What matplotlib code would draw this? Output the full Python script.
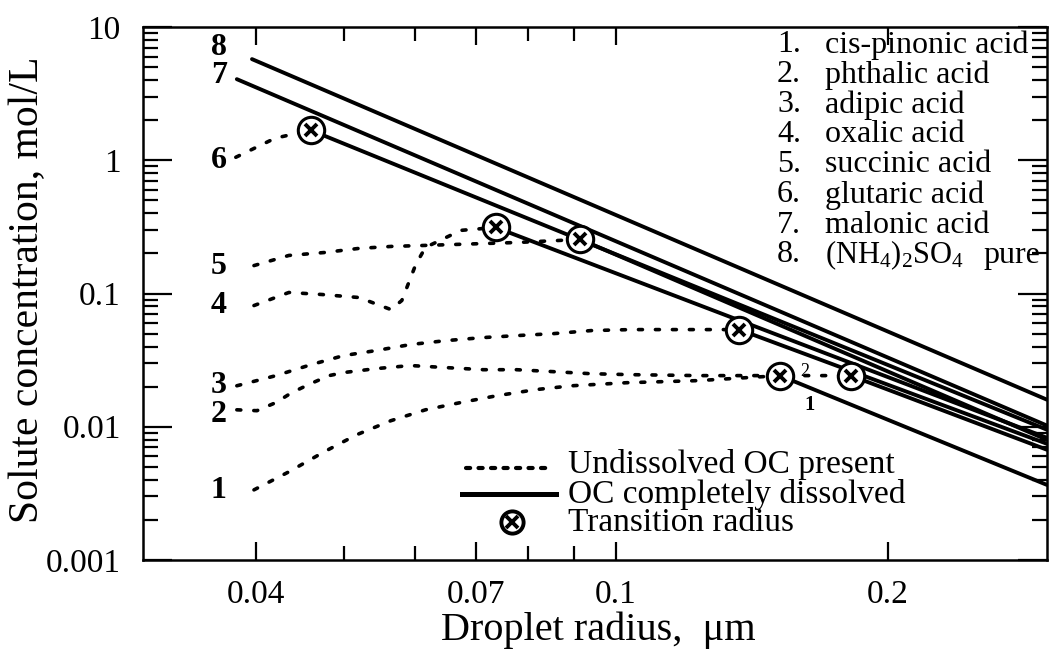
import matplotlib
matplotlib.use("Agg")
import matplotlib.pyplot as plt
from matplotlib.ticker import FixedLocator, NullFormatter, LogLocator

plt.rcParams['font.family'] = ['Liberation Serif', 'DejaVu Serif']
plt.rcParams['mathtext.fontset'] = 'custom'
plt.rcParams['mathtext.rm'] = 'Liberation Serif'
plt.rcParams['mathtext.it'] = 'Liberation Serif:italic'

# ---------------- data (droplet radius um, solute concentration mol/L) -------------
# dashed: undissolved organic compound present
r1_d = [0.0398, 0.0435, 0.0476, 0.0517, 0.0564, 0.0616, 0.0674, 0.0739, 0.0816, 0.0894, 0.1028, 0.1235, 0.152]
c1_d = [0.00336, 0.00459, 0.00649, 0.00871, 0.0111, 0.0134, 0.0152, 0.0171, 0.0190, 0.0203, 0.0214, 0.0222, 0.0242]
r2_d = [0.0381, 0.0401, 0.0421, 0.0438, 0.0460, 0.0482, 0.0500, 0.0543, 0.0593, 0.0649, 0.0714, 0.0777, 0.0854, 0.0940, 0.1039, 0.1235, 0.152, 0.182]
c2_d = [0.0134, 0.0132, 0.0152, 0.0180, 0.0211, 0.0242, 0.0255, 0.0273, 0.0288, 0.0278, 0.0268, 0.0268, 0.0259, 0.0250, 0.0246, 0.0242, 0.0242, 0.0242]
r3_d = [0.0381, 0.0421, 0.0460, 0.0500, 0.0543, 0.0593, 0.0649, 0.0714, 0.0777, 0.0854, 0.0940, 0.1039, 0.137]
c3_d = [0.0203, 0.0242, 0.0292, 0.0342, 0.0373, 0.0414, 0.0443, 0.0467, 0.0483, 0.0500, 0.0527, 0.0536, 0.0536]
r4_d = [0.0398, 0.0435, 0.0473, 0.0520, 0.0564, 0.0580, 0.0601, 0.0616, 0.0674, 0.0737]
c4_d = [0.0812, 0.1018, 0.0983, 0.0933, 0.0758, 0.0886, 0.1652, 0.2217, 0.2977, 0.313]
r5_d = [0.0398, 0.0435, 0.0476, 0.0520, 0.0565, 0.0616, 0.0781, 0.0914]
c5_d = [0.162, 0.193, 0.203, 0.218, 0.2256, 0.2296, 0.2417, 0.2547]
r6_d = [0.0380, 0.0420, 0.0460]
c6_d = [1.053, 1.464, 1.68]

# solid: organic compound completely dissolved
r1_s = [0.152, 0.30];  c1_s = [0.0242, 0.00366]
r2_s = [0.182, 0.30];  c2_s = [0.0242, 0.00672]
r3_s = [0.137, 0.30];  c3_s = [0.0536, 0.00745]
r4_s = [0.0737, 0.30]; c4_s = [0.313, 0.00826]
r5_s = [0.0914, 0.30]; c5_s = [0.2547, 0.00798]
r6_s = [0.046, 0.30];  c6_s = [1.68, 0.0095]
r7_s = [0.0381, 0.30]; c7_s = [4.06, 0.0102]
r8_s = [0.0396, 0.30]; c8_s = [5.74, 0.01596]

# transition radii
r_tr = [0.046, 0.0737, 0.0914, 0.137, 0.152, 0.182]
c_tr = [1.68, 0.313, 0.2547, 0.0536, 0.0242, 0.0242]

curve_ids = ['1', '2', '3', '4', '5', '6', '7', '8']
curve_names = ['cis-pinonic acid', 'phthalic acid', 'adipic acid', 'oxalic acid',
               'succinic acid', 'glutaric acid', 'malonic acid',
               r'(NH$_{4}$)$_{2}$SO$_{4}$']
curve_note8 = 'pure'
label_r = 0.0364
label_c = [0.0033, 0.0124, 0.0203, 0.0812, 0.160, 1.0, 4.3, 7.0]

x_major = [0.04, 0.07, 0.1, 0.2]
x_major_lbl = ['0.04', '0.07', '0.1', '0.2']
x_minor = [0.05, 0.06, 0.08, 0.09]
y_major = [0.001, 0.01, 0.1, 1, 10]
y_major_lbl = ['0.001', '0.01', '0.1', '1', '10']

# ---------------- figure ----------------
W, H = 1054, 654
fig = plt.figure(figsize=(W / 100, H / 100), dpi=100)
ax_l, ax_r, ax_t, ax_b = 143, 1047, 27, 560
ax = fig.add_axes([ax_l / W, 1 - ax_b / H, (ax_r - ax_l) / W, (ax_b - ax_t) / H])
ax.set_xscale('log')
ax.set_yscale('log')
ax.set_xlim(0.03, 0.3)
ax.set_ylim(0.001, 10)

lw_s = 2.8
lw_d = 2.6
dash = (1.1, 3.6)

for r, c in [(r1_d, c1_d), (r2_d, c2_d), (r3_d, c3_d), (r4_d, c4_d), (r5_d, c5_d), (r6_d, c6_d)]:
    ax.plot(r, c, color='black', lw=lw_d, ls=(0, dash), dash_capstyle='round')

for r, c in [(r1_s, c1_s), (r2_s, c2_s), (r3_s, c3_s), (r4_s, c4_s), (r5_s, c5_s),
             (r6_s, c6_s), (r7_s, c7_s), (r8_s, c8_s)]:
    ax.plot(r, c, color='black', lw=lw_s, solid_capstyle='round')

ax.plot(r_tr, c_tr, ls='none', marker='o', ms=19, mfc='white', mec='black', mew=2.2, zorder=5)
ax.plot(r_tr, c_tr, ls='none', marker='x', ms=9, mec='black', mew=2.8, zorder=6)

for cid, cy in zip(curve_ids, label_c):
    ax.text(label_r, cy, cid, fontsize=23, fontweight='bold', ha='center', va='center')

ax.text(0.162, 0.0262, '2', fontsize=13, ha='center', va='center')
ax.text(0.164, 0.0146, '1', fontsize=15, fontweight='bold', ha='center', va='center')

# ---------------- axes styling ----------------
for s in ax.spines.values():
    s.set_linewidth(1.8)
ax.xaxis.set_major_locator(FixedLocator(x_major))
ax.xaxis.set_major_formatter(plt.FixedFormatter(x_major_lbl))
ax.xaxis.set_minor_locator(FixedLocator(x_minor))
ax.xaxis.set_minor_formatter(NullFormatter())
ax.yaxis.set_major_locator(FixedLocator(y_major))
ax.yaxis.set_major_formatter(plt.FixedFormatter(y_major_lbl))
ax.yaxis.set_minor_locator(LogLocator(base=10, subs=range(2, 10), numticks=20))
ax.yaxis.set_minor_formatter(NullFormatter())

ax.tick_params(axis='both', which='both', direction='in', top=True, right=True, width=1.6)
ax.tick_params(axis='y', which='major', length=21, pad=16, labelsize=24)
ax.tick_params(axis='y', which='minor', length=11)
ax.tick_params(axis='x', which='major', length=13, pad=14, labelsize=24)
ax.tick_params(axis='x', which='minor', length=10)

ax.set_xlabel('Droplet radius,  \u03bcm', fontsize=29, va='center')
ax.xaxis.set_label_coords((598 - ax_l) / (ax_r - ax_l), (ax_b - 630) / (ax_b - ax_t))
ax.set_ylabel('Solute concentration, mol/L', fontsize=30, va='center')
ax.yaxis.set_label_coords((28 - ax_l) / (ax_r - ax_l), (ax_b - 290) / (ax_b - ax_t))

# ---------------- legend: compound list (top right) ----------------
for i, (cid, name) in enumerate(zip(curve_ids, curve_names)):
    y = 45 + 30 * i
    fig.text(777 / W, 1 - y / H, cid + '.', fontsize=23, ha='left', va='center')
    fig.text(825 / W, 1 - y / H, name, fontsize=23 if i < 7 else 22, ha='left', va='center')
fig.text(983 / W, 1 - (45 + 30 * 7) / H, curve_note8, fontsize=23, ha='left', va='center')

# ---------------- legend: line styles (bottom) ----------------
def px2data(px, py):
    disp = fig.transFigure.transform((px / W, 1 - py / H))
    return ax.transData.inverted().transform(disp)

(xa, ya), (xb, _) = px2data(466, 468), px2data(546, 468)
ax.plot([xa, xb], [ya, ya], color='black', lw=lw_d + 0.4, ls=(0, (1.0, 2.0)), dash_capstyle='round')
(xa, ya), (xb, _) = px2data(462, 494), px2data(556, 494)
ax.plot([xa, xb], [ya, ya], color='black', lw=lw_s + 0.8)
xm, ym = px2data(512, 522)
ax.plot([xm], [ym], marker='o', ms=16, mfc='white', mec='black', mew=2.8)
ax.plot([xm], [ym], marker='x', ms=8, mec='black', mew=2.8)

for text, py in [('Undissolved OC present', 465), ('OC completely dissolved', 494),
                 ('Transition radius', 523)]:
    fig.text(568 / W, 1 - py / H, text, fontsize=24, ha='left', va='center')

fig.savefig('out.png', dpi=100)
